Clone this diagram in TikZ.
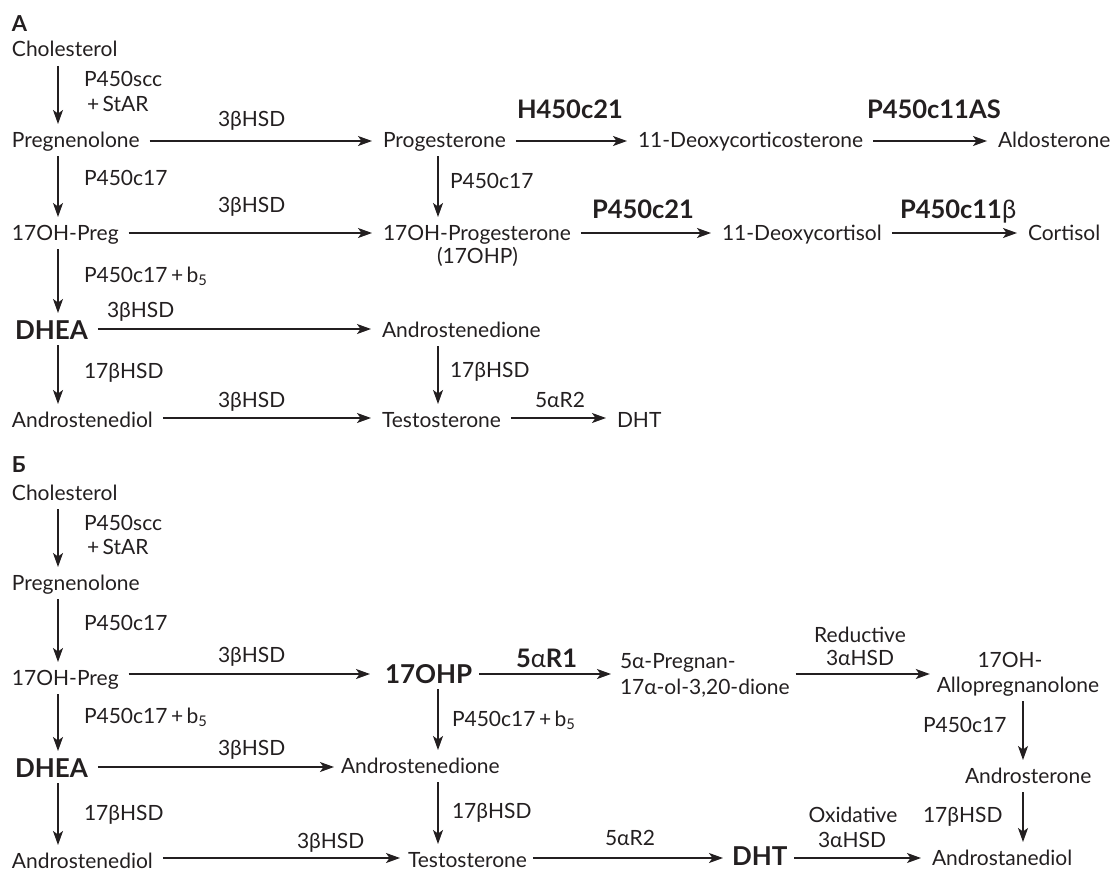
\documentclass[tikz,border=0pt]{standalone}
\usepackage{fontspec}
\setmainfont{Lato}
\usetikzlibrary{arrows.meta,calc}
\definecolor{ink}{RGB}{35,31,32}
\newcommand\rg{\fontsize{21}{24}\selectfont}
\newcommand\bd{\fontsize{25.5}{28}\selectfont\bfseries}
\newcommand\bdl{\fontsize{26}{29}\selectfont\bfseries}
\newcommand\plab{\fontsize{22}{24}\selectfont\bfseries}
\begin{document}
\begin{tikzpicture}[x=1pt,y=-1pt,
  every node/.style={inner sep=0pt, outer sep=0pt, text=ink},
  t/.style={anchor=base west, font=\rg, text height=15pt, text depth=4pt},
  tb/.style={anchor=base west, font=\bdl, text height=18pt, text depth=1pt},
  tc/.style={anchor=base, font=\rg, text height=15pt, text depth=4pt},
  lb/.style={anchor=base west, font=\rg},
  lc/.style={anchor=base, font=\rg},
  lbb/.style={anchor=base west, font=\bd},
  arr/.style={draw=ink, line width=1.3pt, -{Stealth[length=14pt,width=10pt,inset=3.5pt]}, shorten <=10pt, shorten >=11pt},
  varr/.style={arr, shorten <=5pt, shorten >=8pt}]
\useasboundingbox (0,0) rectangle (1118,872);
% ---------- columns and rows ----------
\coordinate (cA) at (58,0);
\coordinate (cM) at (438,0);
\coordinate (cR) at (1023,0);
\coordinate (rA1) at (0,141);
\coordinate (rA2) at (0,233);
\coordinate (rA3) at (0,329);
\coordinate (rA4) at (0,418);
\coordinate (rB2) at (0,674);
\coordinate (rB3) at (0,767);
\coordinate (rB4) at (0,858);
% ================= Panel A =================
\node[anchor=base west, font=\plab] (labA) at (12,32) {А};
\node[t] (chol) at (12,57) {Cholesterol};
\node[t] (preg) at (12,147) {Pregnenolone};
\node[t] (ohpreg) at (12,240) {17OH-Preg};
\node[tb] (dhea) at (15,339) {DHEA};
\node[t] (adiol) at (12,427) {Androstenediol};
\node[t] (prog) at (383,147) {Progesterone};
\node[t] (ohprog) at (383,240) {17OH-Progesterone};
\node[t] (ohpab) at (437,263) {(17OHP)};
\node[t] (andro) at (382,337) {Androstenedione};
\node[t] (testo) at (382,427) {Testosterone};
\node[t] (dht) at (617,427) {DHT};
\node[t] (doc) at (638,147) {11-Deoxycorticosterone};
\node[t] (aldo) at (998,147) {Aldosterone};
\node[t] (dcort) at (722,240) {11-Deoxycortisol};
\node[t] (cort) at (1028,240) {Cortisol};
% labels A
\node[lb] (eA1) at (84,87) {P450scc};
\node[lb] (eA2) at (87,112) {+\,StAR};
\node[lb] (eA3) at (218,127) {3βHSD};
\node[lbb] (eA4) at (517,119) {H450c21};
\node[lbb] (eA5) at (867,119) {P450c11AS};
\node[lb] (eA6) at (84,185) {P450c17};
\node[lb] (eA7) at (450,188) {P450c17};
\node[lb] (eA8) at (218,212) {3βHSD};
\node[lbb] (eA9) at (592,218) {P450c21};
\node[lbb] (eA10) at (900,218) {P450c11{\mdseries β}};
\node[lb] (eA11) at (84,282) {P450c17\,+\,b\textsubscript{5}};
\node[lb] (eA12) at (107,317) {3βHSD};
\node[lb] (eA13) at (84,378) {17βHSD};
\node[lb] (eA14) at (450,377) {17βHSD};
\node[lb] (eA15) at (218,407) {3βHSD};
\node[lb] (eA16) at (535,407) {5αR2};
% arrows A
\draw[varr] (chol.south -| cA) -- (preg.north -| cA);
\draw[varr] (preg.south -| cA) -- (ohpreg.north -| cA);
\draw[varr] (ohpreg.south -| cA) -- (dhea.north -| cA);
\draw[varr] (dhea.south -| cA) -- (adiol.north -| cA);
\draw[varr] (prog.south -| cM) -- (ohprog.north -| cM);
\draw[varr] (andro.south -| cM) -- (testo.north -| cM);
\draw[arr] (preg.east |- rA1) -- (prog.west |- rA1);
\draw[arr] (prog.east |- rA1) -- (doc.west |- rA1);
\draw[arr] (doc.east |- rA1) -- (aldo.west |- rA1);
\draw[arr] (ohpreg.east |- rA2) -- (ohprog.west |- rA2);
\draw[arr] (ohprog.east |- rA2) -- (dcort.west |- rA2);
\draw[arr] (dcort.east |- rA2) -- (cort.west |- rA2);
\draw[arr] (dhea.east |- rA3) -- (andro.west |- rA3);
\draw[arr] (adiol.east |- rA4) -- (testo.west |- rA4);
\draw[arr] (testo.east |- rA4) -- (dht.west |- rA4);
% ================= Panel B =================
\node[anchor=base west, font=\plab] (labB) at (12,472) {Б};
\node[t] (cholB) at (12,500) {Cholesterol};
\node[t] (pregB) at (12,590) {Pregnenolone};
\node[t] (ohpregB) at (12,685) {17OH-Preg};
\node[tb] (dheaB) at (15,777) {DHEA};
\node[t] (adiolB) at (12,868) {Androstenediol};
\node[tb] (ohpB) at (385,683) {17OHP};
\node[t] (androB) at (341,773) {Androstenedione};
\node[t] (testoB) at (408,867) {Testosterone};
\node[tb] (dhtB) at (732,865) {DHT};
\node[t] (pgnA) at (620,668) {5α-Pregnan-};
\node[t] (pgnB) at (620,694) {17α-ol-3,20-dione};
\node[tc] (alloA) at (1010,667) {17OH-};
\node[tc] (alloB) at (1018,692) {Allopregnanolone};
\node[t] (asterone) at (965,783) {Androsterone};
\node[t] (astdiol) at (932,865) {Androstanediol};
% labels B
\node[lb] (eB1) at (84,530) {P450scc};
\node[lb] (eB2) at (87,554) {+\,StAR};
\node[lb] (eB3) at (84,630) {P450c17};
\node[lb] (eB4) at (218,662) {3βHSD};
\node[lbb] (eB5) at (516,667) {5{\mdseries α}R1};
\node[lc] (eB6) at (860,642) {Reductive};
\node[lc] (eB7) at (860,665) {3αHSD};
\node[lb] (eB8) at (84,723) {P450c17\,+\,b\textsubscript{5}};
\node[lb] (eB9) at (452,726) {P450c17\,+\,b\textsubscript{5}};
\node[lb] (eB10) at (923,732) {P450c17};
\node[lb] (eB11) at (218,755) {3βHSD};
\node[lb] (eB12) at (84,820) {17βHSD};
\node[lb] (eB13) at (452,818) {17βHSD};
\node[lb] (eB14) at (923,822) {17βHSD};
\node[lc] (eB15) at (853,822) {Oxidative};
\node[lc] (eB16) at (852,847) {3αHSD};
\node[lb] (eB17) at (297,848) {3βHSD};
\node[lb] (eB18) at (605,845) {5αR2};
% arrows B
\draw[varr] (cholB.south -| cA) -- (pregB.north -| cA);
\draw[varr] (pregB.south -| cA) -- (ohpregB.north -| cA);
\draw[varr] (ohpregB.south -| cA) -- (dheaB.north -| cA);
\draw[varr] (dheaB.south -| cA) -- (adiolB.north -| cA);
\draw[varr] (ohpB.south -| cM) -- (androB.north -| cM);
\draw[varr] (androB.south -| cM) -- (testoB.north -| cM);
\draw[varr] (alloB.south -| cR) -- (asterone.north -| cR);
\draw[varr] (asterone.south -| cR) -- (astdiol.north -| cR);
\draw[arr, shorten >=15pt] (ohpregB.east |- rB2) -- (ohpB.west |- rB2);
\draw[arr, shorten <=7pt, shorten >=9pt] (ohpB.east |- rB2) -- (pgnA.west |- rB2);
\draw[arr, shorten <=6pt, shorten >=7pt] (pgnB.east |- rB2) -- (alloB.west |- rB2);
\draw[arr, shorten >=7pt] (dheaB.east |- rB3) -- (androB.west |- rB3);
\draw[arr, shorten >=8pt] (adiolB.east |- rB4) -- (testoB.west |- rB4);
\draw[arr, shorten <=6pt, shorten >=9pt] (testoB.east |- rB4) -- (dhtB.west |- rB4);
\draw[arr, shorten <=7pt] (dhtB.east |- rB4) -- (astdiol.west |- rB4);
\end{tikzpicture}
\end{document}
